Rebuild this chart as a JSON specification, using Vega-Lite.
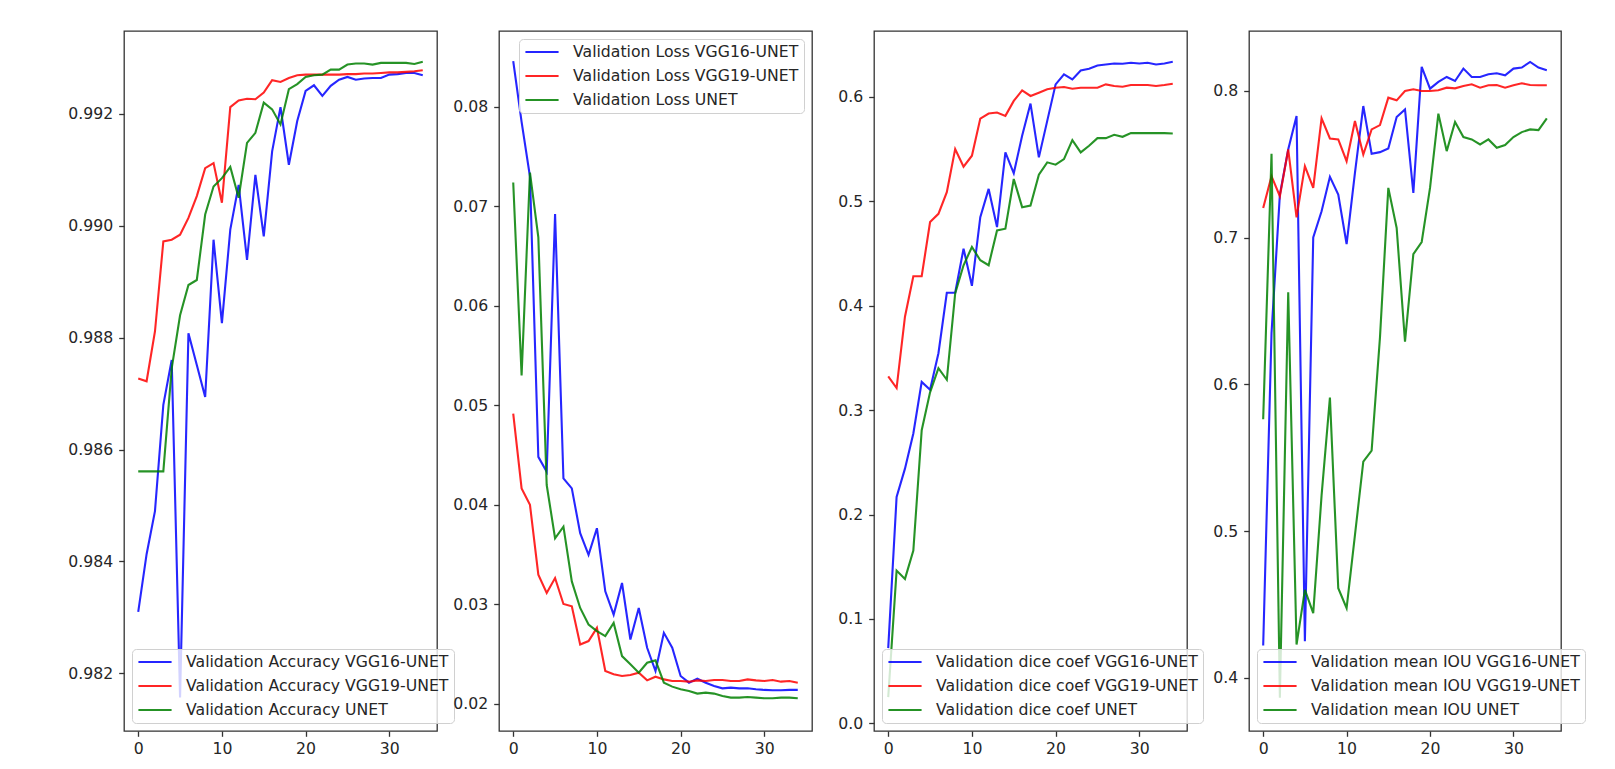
{
  "$schema": "https://vega.github.io/schema/vega-lite/v6.json",
  "padding": {"left": 67, "top": 30, "right": 5, "bottom": 5},
  "background": "white",
  "spacing": 62,
  "bounds": "flush",
  "resolve": {"scale": {"color": "independent", "x": "independent", "y": "independent"}, "legend": {"color": "independent"}},
  "config": {
    "font": "DejaVu Sans",
    "view": {"stroke": "#333333", "strokeWidth": 1.3},
    "axis": {"grid": false, "domain": false, "tickColor": "#333333", "tickSize": 5.3, "tickWidth": 1.3, "labelFont": "DejaVu Sans", "labelFontSize": 15.7, "labelColor": "#262626", "labelPadding": 5},
    "axisY": {"labelPadding": 6},
    "legend": {"padding": 5, "offset": 8, "symbolType": "stroke", "symbolSize": 1100, "symbolStrokeWidth": 2.2, "labelFont": "DejaVu Sans", "labelFontSize": 15.7, "labelColor": "#262626", "labelOffset": 13, "labelLimit": 600, "rowPadding": 8, "clipHeight": 16, "strokeColor": "#d0d0d0", "fillColor": "rgba(255,255,255,0.8)", "cornerRadius": 4}
  },
  "datasets": {
    "acc": [
      {"epoch":0,"VGG16-UNET":0.98310,"VGG19-UNET":0.98727,"UNET":0.98561},
      {"epoch":1,"VGG16-UNET":0.98413,"VGG19-UNET":0.98722,"UNET":0.98561},
      {"epoch":2,"VGG16-UNET":0.98490,"VGG19-UNET":0.98811,"UNET":0.98561},
      {"epoch":3,"VGG16-UNET":0.98680,"VGG19-UNET":0.98972,"UNET":0.98561},
      {"epoch":4,"VGG16-UNET":0.98760,"VGG19-UNET":0.98975,"UNET":0.98745},
      {"epoch":5,"VGG16-UNET":0.98157,"VGG19-UNET":0.98984,"UNET":0.98840},
      {"epoch":6,"VGG16-UNET":0.98808,"VGG19-UNET":0.99014,"UNET":0.98894},
      {"epoch":7,"VGG16-UNET":0.98751,"VGG19-UNET":0.99053,"UNET":0.98903},
      {"epoch":8,"VGG16-UNET":0.98694,"VGG19-UNET":0.99103,"UNET":0.99020},
      {"epoch":9,"VGG16-UNET":0.98975,"VGG19-UNET":0.99112,"UNET":0.99070},
      {"epoch":10,"VGG16-UNET":0.98826,"VGG19-UNET":0.99041,"UNET":0.99085},
      {"epoch":11,"VGG16-UNET":0.98993,"VGG19-UNET":0.99212,"UNET":0.99105},
      {"epoch":12,"VGG16-UNET":0.99073,"VGG19-UNET":0.99224,"UNET":0.99050},
      {"epoch":13,"VGG16-UNET":0.98939,"VGG19-UNET":0.99227,"UNET":0.99148},
      {"epoch":14,"VGG16-UNET":0.99091,"VGG19-UNET":0.99226,"UNET":0.99166},
      {"epoch":15,"VGG16-UNET":0.98981,"VGG19-UNET":0.99238,"UNET":0.99220},
      {"epoch":16,"VGG16-UNET":0.99133,"VGG19-UNET":0.99260,"UNET":0.99208},
      {"epoch":17,"VGG16-UNET":0.99212,"VGG19-UNET":0.99257,"UNET":0.99181},
      {"epoch":18,"VGG16-UNET":0.99109,"VGG19-UNET":0.99264,"UNET":0.99244},
      {"epoch":19,"VGG16-UNET":0.99187,"VGG19-UNET":0.99269,"UNET":0.99253},
      {"epoch":20,"VGG16-UNET":0.99241,"VGG19-UNET":0.99270,"UNET":0.99266},
      {"epoch":21,"VGG16-UNET":0.99251,"VGG19-UNET":0.99270,"UNET":0.99269},
      {"epoch":22,"VGG16-UNET":0.99232,"VGG19-UNET":0.99270,"UNET":0.99270},
      {"epoch":23,"VGG16-UNET":0.99250,"VGG19-UNET":0.99270,"UNET":0.99279},
      {"epoch":24,"VGG16-UNET":0.99261,"VGG19-UNET":0.99270,"UNET":0.99279},
      {"epoch":25,"VGG16-UNET":0.99266,"VGG19-UNET":0.99271,"UNET":0.99288},
      {"epoch":26,"VGG16-UNET":0.99261,"VGG19-UNET":0.99271,"UNET":0.99290},
      {"epoch":27,"VGG16-UNET":0.99263,"VGG19-UNET":0.99272,"UNET":0.99290},
      {"epoch":28,"VGG16-UNET":0.99264,"VGG19-UNET":0.99272,"UNET":0.99288},
      {"epoch":29,"VGG16-UNET":0.99264,"VGG19-UNET":0.99273,"UNET":0.99291},
      {"epoch":30,"VGG16-UNET":0.99270,"VGG19-UNET":0.99274,"UNET":0.99291},
      {"epoch":31,"VGG16-UNET":0.99271,"VGG19-UNET":0.99274,"UNET":0.99291},
      {"epoch":32,"VGG16-UNET":0.99273,"VGG19-UNET":0.99275,"UNET":0.99291},
      {"epoch":33,"VGG16-UNET":0.99273,"VGG19-UNET":0.99276,"UNET":0.99289},
      {"epoch":34,"VGG16-UNET":0.99269,"VGG19-UNET":0.99278,"UNET":0.99293}
    ],
    "loss": [
      {"epoch":0,"VGG16-UNET":0.08462,"VGG19-UNET":0.04917,"UNET":0.07241},
      {"epoch":1,"VGG16-UNET":0.07850,"VGG19-UNET":0.04165,"UNET":0.05301},
      {"epoch":2,"VGG16-UNET":0.07300,"VGG19-UNET":0.04000,"UNET":0.07341},
      {"epoch":3,"VGG16-UNET":0.04482,"VGG19-UNET":0.03297,"UNET":0.06689},
      {"epoch":4,"VGG16-UNET":0.04332,"VGG19-UNET":0.03114,"UNET":0.04199},
      {"epoch":5,"VGG16-UNET":0.06923,"VGG19-UNET":0.03264,"UNET":0.03664},
      {"epoch":6,"VGG16-UNET":0.04265,"VGG19-UNET":0.03003,"UNET":0.03781},
      {"epoch":7,"VGG16-UNET":0.04165,"VGG19-UNET":0.02980,"UNET":0.03230},
      {"epoch":8,"VGG16-UNET":0.03715,"VGG19-UNET":0.02596,"UNET":0.02963},
      {"epoch":9,"VGG16-UNET":0.03497,"VGG19-UNET":0.02630,"UNET":0.02796},
      {"epoch":10,"VGG16-UNET":0.03765,"VGG19-UNET":0.02763,"UNET":0.02730},
      {"epoch":11,"VGG16-UNET":0.03130,"VGG19-UNET":0.02329,"UNET":0.02680},
      {"epoch":12,"VGG16-UNET":0.02896,"VGG19-UNET":0.02296,"UNET":0.02813},
      {"epoch":13,"VGG16-UNET":0.03214,"VGG19-UNET":0.02279,"UNET":0.02479},
      {"epoch":14,"VGG16-UNET":0.02646,"VGG19-UNET":0.02289,"UNET":0.02396},
      {"epoch":15,"VGG16-UNET":0.02963,"VGG19-UNET":0.02312,"UNET":0.02312},
      {"epoch":16,"VGG16-UNET":0.02563,"VGG19-UNET":0.02235,"UNET":0.02412},
      {"epoch":17,"VGG16-UNET":0.02329,"VGG19-UNET":0.02272,"UNET":0.02436},
      {"epoch":18,"VGG16-UNET":0.02713,"VGG19-UNET":0.02245,"UNET":0.02212},
      {"epoch":19,"VGG16-UNET":0.02563,"VGG19-UNET":0.02229,"UNET":0.02172},
      {"epoch":20,"VGG16-UNET":0.02279,"VGG19-UNET":0.02229,"UNET":0.02145},
      {"epoch":21,"VGG16-UNET":0.02212,"VGG19-UNET":0.02222,"UNET":0.02129},
      {"epoch":22,"VGG16-UNET":0.02252,"VGG19-UNET":0.02235,"UNET":0.02102},
      {"epoch":23,"VGG16-UNET":0.02212,"VGG19-UNET":0.02229,"UNET":0.02112},
      {"epoch":24,"VGG16-UNET":0.02179,"VGG19-UNET":0.02239,"UNET":0.02102},
      {"epoch":25,"VGG16-UNET":0.02155,"VGG19-UNET":0.02239,"UNET":0.02078},
      {"epoch":26,"VGG16-UNET":0.02162,"VGG19-UNET":0.02229,"UNET":0.02062},
      {"epoch":27,"VGG16-UNET":0.02155,"VGG19-UNET":0.02229,"UNET":0.02062},
      {"epoch":28,"VGG16-UNET":0.02155,"VGG19-UNET":0.02245,"UNET":0.02068},
      {"epoch":29,"VGG16-UNET":0.02145,"VGG19-UNET":0.02235,"UNET":0.02062},
      {"epoch":30,"VGG16-UNET":0.02139,"VGG19-UNET":0.02229,"UNET":0.02055},
      {"epoch":31,"VGG16-UNET":0.02135,"VGG19-UNET":0.02239,"UNET":0.02055},
      {"epoch":32,"VGG16-UNET":0.02135,"VGG19-UNET":0.02222,"UNET":0.02062},
      {"epoch":33,"VGG16-UNET":0.02139,"VGG19-UNET":0.02229,"UNET":0.02062},
      {"epoch":34,"VGG16-UNET":0.02139,"VGG19-UNET":0.02212,"UNET":0.02055}
    ],
    "dice": [
      {"epoch":0,"VGG16-UNET":0.072,"VGG19-UNET":0.33227,"UNET":0.025},
      {"epoch":1,"VGG16-UNET":0.21675,"VGG19-UNET":0.32114,"UNET":0.1463},
      {"epoch":2,"VGG16-UNET":0.24396,"VGG19-UNET":0.3895,"UNET":0.1383},
      {"epoch":3,"VGG16-UNET":0.27759,"VGG19-UNET":0.4283,"UNET":0.16551},
      {"epoch":4,"VGG16-UNET":0.327,"VGG19-UNET":0.4283,"UNET":0.28079},
      {"epoch":5,"VGG16-UNET":0.3195,"VGG19-UNET":0.48013,"UNET":0.317},
      {"epoch":6,"VGG16-UNET":0.35453,"VGG19-UNET":0.48808,"UNET":0.34022},
      {"epoch":7,"VGG16-UNET":0.4124,"VGG19-UNET":0.50874,"UNET":0.3291},
      {"epoch":8,"VGG16-UNET":0.4124,"VGG19-UNET":0.55008,"UNET":0.41176},
      {"epoch":9,"VGG16-UNET":0.45469,"VGG19-UNET":0.53323,"UNET":0.43879},
      {"epoch":10,"VGG16-UNET":0.41908,"VGG19-UNET":0.54372,"UNET":0.45628},
      {"epoch":11,"VGG16-UNET":0.4849,"VGG19-UNET":0.57933,"UNET":0.44356},
      {"epoch":12,"VGG16-UNET":0.51192,"VGG19-UNET":0.5841,"UNET":0.43879},
      {"epoch":13,"VGG16-UNET":0.47536,"VGG19-UNET":0.58506,"UNET":0.47218},
      {"epoch":14,"VGG16-UNET":0.5469,"VGG19-UNET":0.58188,"UNET":0.47377},
      {"epoch":15,"VGG16-UNET":0.52687,"VGG19-UNET":0.59618,"UNET":0.52146},
      {"epoch":16,"VGG16-UNET":0.5628,"VGG19-UNET":0.60636,"UNET":0.49444},
      {"epoch":17,"VGG16-UNET":0.59364,"VGG19-UNET":0.60095,"UNET":0.49603},
      {"epoch":18,"VGG16-UNET":0.54213,"VGG19-UNET":0.60413,"UNET":0.5256},
      {"epoch":19,"VGG16-UNET":0.57711,"VGG19-UNET":0.60731,"UNET":0.53736},
      {"epoch":20,"VGG16-UNET":0.61208,"VGG19-UNET":0.6089,"UNET":0.53514},
      {"epoch":21,"VGG16-UNET":0.62162,"VGG19-UNET":0.60954,"UNET":0.5405},
      {"epoch":22,"VGG16-UNET":0.61685,"VGG19-UNET":0.60795,"UNET":0.55866},
      {"epoch":23,"VGG16-UNET":0.62544,"VGG19-UNET":0.6089,"UNET":0.5469},
      {"epoch":24,"VGG16-UNET":0.62703,"VGG19-UNET":0.6089,"UNET":0.55326},
      {"epoch":25,"VGG16-UNET":0.63021,"VGG19-UNET":0.6089,"UNET":0.56057},
      {"epoch":26,"VGG16-UNET":0.63116,"VGG19-UNET":0.61208,"UNET":0.56057},
      {"epoch":27,"VGG16-UNET":0.63212,"VGG19-UNET":0.61049,"UNET":0.56375},
      {"epoch":28,"VGG16-UNET":0.6318,"VGG19-UNET":0.60986,"UNET":0.56184},
      {"epoch":29,"VGG16-UNET":0.63275,"VGG19-UNET":0.61144,"UNET":0.56534},
      {"epoch":30,"VGG16-UNET":0.63212,"VGG19-UNET":0.61144,"UNET":0.56534},
      {"epoch":31,"VGG16-UNET":0.63275,"VGG19-UNET":0.61144,"UNET":0.56534},
      {"epoch":32,"VGG16-UNET":0.63116,"VGG19-UNET":0.61049,"UNET":0.56534},
      {"epoch":33,"VGG16-UNET":0.63212,"VGG19-UNET":0.61144,"UNET":0.56534},
      {"epoch":34,"VGG16-UNET":0.6337,"VGG19-UNET":0.61272,"UNET":0.56502}
    ],
    "iou": [
      {"epoch":0,"VGG16-UNET":0.422,"VGG19-UNET":0.72027,"UNET":0.57627},
      {"epoch":1,"VGG16-UNET":0.635,"VGG19-UNET":0.74191,"UNET":0.75718},
      {"epoch":2,"VGG16-UNET":0.72938,"VGG19-UNET":0.72825,"UNET":0.38644},
      {"epoch":3,"VGG16-UNET":0.76014,"VGG19-UNET":0.76014,"UNET":0.66287},
      {"epoch":4,"VGG16-UNET":0.78292,"VGG19-UNET":0.7139,"UNET":0.4226},
      {"epoch":5,"VGG16-UNET":0.42486,"VGG19-UNET":0.74875,"UNET":0.45989},
      {"epoch":6,"VGG16-UNET":0.70023,"VGG19-UNET":0.73394,"UNET":0.44407},
      {"epoch":7,"VGG16-UNET":0.718,"VGG19-UNET":0.78132,"UNET":0.52429},
      {"epoch":8,"VGG16-UNET":0.74146,"VGG19-UNET":0.76765,"UNET":0.59096},
      {"epoch":9,"VGG16-UNET":0.72938,"VGG19-UNET":0.76697,"UNET":0.46102},
      {"epoch":10,"VGG16-UNET":0.69567,"VGG19-UNET":0.75216,"UNET":0.44746},
      {"epoch":11,"VGG16-UNET":0.74419,"VGG19-UNET":0.7795,"UNET":0.49718},
      {"epoch":12,"VGG16-UNET":0.78975,"VGG19-UNET":0.75672,"UNET":0.54734},
      {"epoch":13,"VGG16-UNET":0.75718,"VGG19-UNET":0.7738,"UNET":0.5548},
      {"epoch":14,"VGG16-UNET":0.75831,"VGG19-UNET":0.77677,"UNET":0.632},
      {"epoch":15,"VGG16-UNET":0.76082,"VGG19-UNET":0.79544,"UNET":0.73394},
      {"epoch":16,"VGG16-UNET":0.78223,"VGG19-UNET":0.79362,"UNET":0.7066},
      {"epoch":17,"VGG16-UNET":0.78747,"VGG19-UNET":0.8,"UNET":0.62916},
      {"epoch":18,"VGG16-UNET":0.73052,"VGG19-UNET":0.80114,"UNET":0.68884},
      {"epoch":19,"VGG16-UNET":0.8164,"VGG19-UNET":0.8,"UNET":0.69704},
      {"epoch":20,"VGG16-UNET":0.80159,"VGG19-UNET":0.8,"UNET":0.73394},
      {"epoch":21,"VGG16-UNET":0.80615,"VGG19-UNET":0.80046,"UNET":0.78451},
      {"epoch":22,"VGG16-UNET":0.80957,"VGG19-UNET":0.80228,"UNET":0.759},
      {"epoch":23,"VGG16-UNET":0.80683,"VGG19-UNET":0.80182,"UNET":0.77882},
      {"epoch":24,"VGG16-UNET":0.81526,"VGG19-UNET":0.80342,"UNET":0.76856},
      {"epoch":25,"VGG16-UNET":0.80957,"VGG19-UNET":0.80456,"UNET":0.76697},
      {"epoch":26,"VGG16-UNET":0.80957,"VGG19-UNET":0.80228,"UNET":0.76355},
      {"epoch":27,"VGG16-UNET":0.81139,"VGG19-UNET":0.80387,"UNET":0.76697},
      {"epoch":28,"VGG16-UNET":0.81207,"VGG19-UNET":0.8041,"UNET":0.76128},
      {"epoch":29,"VGG16-UNET":0.81071,"VGG19-UNET":0.80228,"UNET":0.7631},
      {"epoch":30,"VGG16-UNET":0.81526,"VGG19-UNET":0.80387,"UNET":0.76856},
      {"epoch":31,"VGG16-UNET":0.81595,"VGG19-UNET":0.80524,"UNET":0.77198},
      {"epoch":32,"VGG16-UNET":0.81982,"VGG19-UNET":0.8041,"UNET":0.7738},
      {"epoch":33,"VGG16-UNET":0.81595,"VGG19-UNET":0.80387,"UNET":0.77335},
      {"epoch":34,"VGG16-UNET":0.81412,"VGG19-UNET":0.80387,"UNET":0.78132}
    ]
  },
  "hconcat": [
    {
      "width": 313, "height": 700,
      "data": {"name": "acc"},
      "transform": [{"fold": ["VGG16-UNET", "VGG19-UNET", "UNET"], "as": ["model", "value"]}],
      "mark": {"type": "line", "strokeWidth": 2.1, "opacity": 0.85, "clip": true},
      "encoding": {
        "x": {"field": "epoch", "type": "quantitative", "scale": {"domain": [-1.7, 35.7], "nice": false, "zero": false}, "axis": {"values": [0, 10, 20, 30], "title": null}},
        "y": {"field": "value", "type": "quantitative", "scale": {"domain": [0.98097, 0.99348], "nice": false, "zero": false}, "axis": {"values": [0.982, 0.984, 0.986, 0.988, 0.990, 0.992], "format": ".3f", "title": null}},
        "color": {"field": "model", "type": "nominal", "scale": {"domain": ["VGG16-UNET", "VGG19-UNET", "UNET"], "range": ["#0000ff", "#ff0000", "#008000"]}, "legend": {"title": null, "orient": "bottom-left", "labelExpr": "'Validation Accuracy ' + datum.label"}}
      }
    },
    {
      "width": 313, "height": 700,
      "data": {"name": "loss"},
      "transform": [{"fold": ["VGG16-UNET", "VGG19-UNET", "UNET"], "as": ["model", "value"]}],
      "mark": {"type": "line", "strokeWidth": 2.1, "opacity": 0.85, "clip": true},
      "encoding": {
        "x": {"field": "epoch", "type": "quantitative", "scale": {"domain": [-1.7, 35.7], "nice": false, "zero": false}, "axis": {"values": [0, 10, 20, 30], "title": null}},
        "y": {"field": "value", "type": "quantitative", "scale": {"domain": [0.01726, 0.08764], "nice": false, "zero": false}, "axis": {"values": [0.02, 0.03, 0.04, 0.05, 0.06, 0.07, 0.08], "format": ".2f", "title": null}},
        "color": {"field": "model", "type": "nominal", "scale": {"domain": ["VGG16-UNET", "VGG19-UNET", "UNET"], "range": ["#0000ff", "#ff0000", "#008000"]}, "legend": {"title": null, "orient": "top-right", "labelExpr": "'Validation Loss ' + datum.label"}}
      }
    },
    {
      "width": 313, "height": 700,
      "data": {"name": "dice"},
      "transform": [{"fold": ["VGG16-UNET", "VGG19-UNET", "UNET"], "as": ["model", "value"]}],
      "mark": {"type": "line", "strokeWidth": 2.1, "opacity": 0.85, "clip": true},
      "encoding": {
        "x": {"field": "epoch", "type": "quantitative", "scale": {"domain": [-1.7, 35.7], "nice": false, "zero": false}, "axis": {"values": [0, 10, 20, 30], "title": null}},
        "y": {"field": "value", "type": "quantitative", "scale": {"domain": [-0.0074, 0.6632], "nice": false, "zero": false}, "axis": {"values": [0, 0.1, 0.2, 0.3, 0.4, 0.5, 0.6], "format": ".1f", "title": null}},
        "color": {"field": "model", "type": "nominal", "scale": {"domain": ["VGG16-UNET", "VGG19-UNET", "UNET"], "range": ["#0000ff", "#ff0000", "#008000"]}, "legend": {"title": null, "orient": "bottom-left", "labelExpr": "'Validation dice coef ' + datum.label"}}
      }
    },
    {
      "width": 312, "height": 700,
      "data": {"name": "iou"},
      "transform": [{"fold": ["VGG16-UNET", "VGG19-UNET", "UNET"], "as": ["model", "value"]}],
      "mark": {"type": "line", "strokeWidth": 2.1, "opacity": 0.85, "clip": true},
      "encoding": {
        "x": {"field": "epoch", "type": "quantitative", "scale": {"domain": [-1.7, 35.7], "nice": false, "zero": false}, "axis": {"values": [0, 10, 20, 30], "title": null}},
        "y": {"field": "value", "type": "quantitative", "scale": {"domain": [0.3637, 0.8409], "nice": false, "zero": false}, "axis": {"values": [0.4, 0.5, 0.6, 0.7, 0.8], "format": ".1f", "title": null}},
        "color": {"field": "model", "type": "nominal", "scale": {"domain": ["VGG16-UNET", "VGG19-UNET", "UNET"], "range": ["#0000ff", "#ff0000", "#008000"]}, "legend": {"title": null, "orient": "bottom-left", "labelExpr": "'Validation mean IOU ' + datum.label"}}
      }
    }
  ]
}
